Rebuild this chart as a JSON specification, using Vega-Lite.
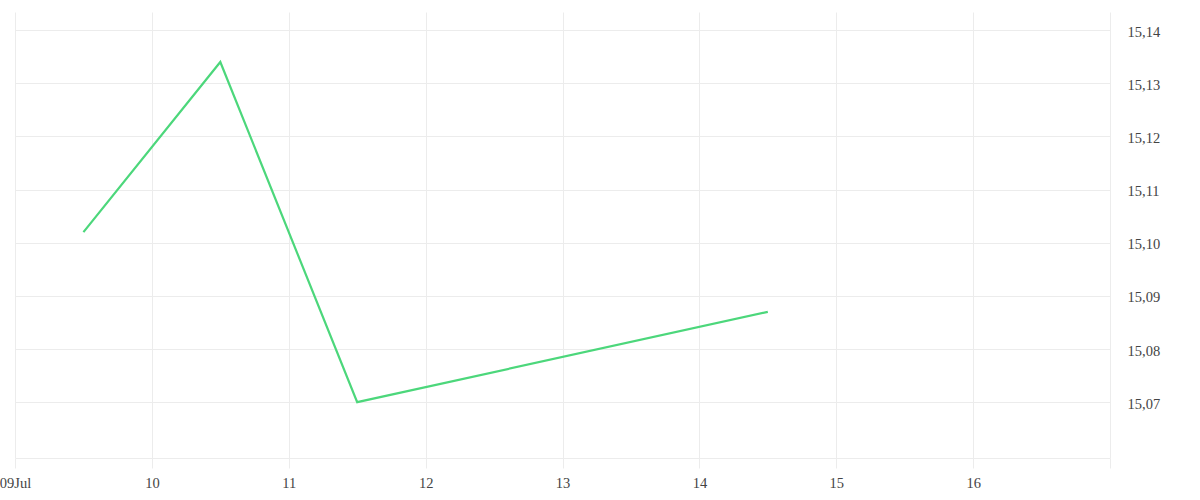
{
  "$schema": "https://vega.github.io/schema/vega-lite/v6.json",
  "autosize": {"type": "none"},
  "width": 1095,
  "height": 446,
  "padding": {"left": 15, "top": 12, "right": 90, "bottom": 42},
  "background": "white",
  "config": {
    "view": {"stroke": null},
    "axis": {"labelFont": "Liberation Serif", "labelFontSize": 14.5, "labelColor": "#444444", "gridColor": "#ececec", "gridWidth": 1}
  },
  "data": {
    "values": [
      {"date": "2024-07-09T12:00:00Z", "value": 15.102},
      {"date": "2024-07-10T12:00:00Z", "value": 15.134},
      {"date": "2024-07-11T12:00:00Z", "value": 15.070},
      {"date": "2024-07-14T12:00:00Z", "value": 15.087}
    ]
  },
  "mark": {"type": "line", "color": "#4cd77b", "strokeWidth": 2.2},
  "encoding": {
    "x": {
      "field": "date",
      "type": "temporal",
      "scale": {"type": "utc", "domain": ["2024-07-09T00:00:00Z", "2024-07-17T00:00:00Z"], "nice": false},
      "axis": {
        "title": null,
        "values": ["2024-07-09T00:00:00Z", "2024-07-10T00:00:00Z", "2024-07-11T00:00:00Z", "2024-07-12T00:00:00Z", "2024-07-13T00:00:00Z", "2024-07-14T00:00:00Z", "2024-07-15T00:00:00Z", "2024-07-16T00:00:00Z", "2024-07-17T00:00:00Z"],
        "labelExpr": "utcdate(datum.value) == 17 ? '' : (utcdate(datum.value) == 9 ? utcFormat(datum.value, '%d%b') : utcFormat(datum.value, '%d'))",
        "grid": true,
        "domain": true,
        "domainColor": "#ececec",
        "ticks": true,
        "tickColor": "#ececec",
        "tickSize": 10,
        "labelPadding": 8,
        "labelFlush": false,
        "labelOverlap": false
      }
    },
    "y": {
      "field": "value",
      "type": "quantitative",
      "scale": {"domain": [15.0595, 15.1434], "nice": false, "zero": false},
      "axis": {
        "orient": "right",
        "title": null,
        "values": [15.07, 15.08, 15.09, 15.10, 15.11, 15.12, 15.13, 15.14],
        "labelExpr": "replace(format(datum.value, '.2f'), '.', ',')",
        "grid": true,
        "domain": false,
        "ticks": false,
        "labelPadding": 17,
        "labelOffset": 2,
        "labelAlign": "left"
      }
    }
  }
}
